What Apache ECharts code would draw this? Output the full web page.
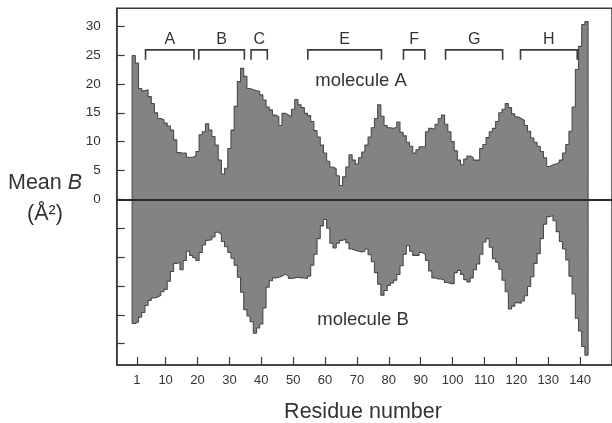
<!DOCTYPE html>
<html>
<head>
<meta charset="utf-8">
<script src="https://cdn.jsdelivr.net/npm/echarts@6/dist/echarts.min.js"></script>
<style>
html,body{margin:0;padding:0;background:#fff;}
#c{width:612px;height:423px;}
</style>
</head>
<body>
<div id="c"></div>
<script>
// Mean B factor per residue (residue numbers start at 0)
const firstResidue = 0;
const moleculeA = [
24.9,23.6,19.2,18.8,19.0,17.8,16.6,15.0,14.0,13.8,
13.2,12.7,12.0,10.3,8.1,8.0,8.0,7.3,7.3,7.5,
8.3,11.2,11.7,13.1,12.0,10.9,9.4,6.8,4.4,5.4,
8.8,12.0,16.1,20.4,22.7,21.3,19.2,19.0,18.8,18.7,
18.1,17.2,16.0,15.5,14.6,14.3,12.8,14.9,14.6,14.3,
15.6,17.3,16.4,15.9,14.9,14.5,13.5,11.9,10.8,9.4,
8.0,6.6,5.6,5.3,4.1,2.4,3.9,5.6,7.7,6.8,
6.1,7.2,8.2,9.4,10.8,12.4,14.0,16.4,14.4,12.8,
12.4,12.3,12.5,13.4,11.6,11.0,9.9,9.2,8.0,8.6,
9.1,9.1,11.7,12.3,12.1,13.0,14.0,14.6,13.0,11.7,
10.0,8.4,6.8,6.0,7.0,7.5,7.2,6.8,6.8,8.8,
9.5,10.7,11.7,12.3,13.5,15.0,15.6,16.6,15.9,14.8,
14.3,14.0,13.7,12.8,11.8,10.6,9.9,9.2,8.3,7.2,
5.7,6.0,6.1,6.4,6.8,8.0,9.5,11.8,16.0,22.5,
26.5,30.3,30.8
];
const moleculeB = [
-21.5,-21.2,-20.4,-19.6,-18.4,-17.5,-17.1,-16.9,-16.6,-16.0,
-15.6,-14.2,-12.5,-11.1,-10.9,-12.2,-10.6,-9.0,-9.7,-10.1,
-10.6,-9.2,-7.9,-7.1,-7.0,-6.5,-5.7,-6.0,-7.3,-8.2,
-9.2,-10.2,-11.4,-13.5,-16.1,-19.1,-20.2,-21.2,-23.2,-22.3,
-21.6,-18.8,-15.2,-14.1,-13.6,-13.5,-13.3,-13.0,-13.3,-13.7,
-13.6,-13.5,-13.6,-13.6,-13.7,-13.3,-11.4,-9.5,-6.8,-4.6,
-3.5,-5.0,-7.6,-8.4,-7.6,-7.1,-6.9,-7.5,-8.6,-8.8,
-9.0,-9.1,-9.0,-8.6,-9.6,-10.8,-12.7,-14.7,-16.6,-15.8,
-14.9,-14.5,-14.0,-13.0,-11.5,-9.5,-8.0,-9.0,-9.7,-9.7,
-9.2,-9.5,-10.6,-12.4,-13.6,-13.8,-13.8,-14.0,-14.4,-14.6,
-14.6,-12.7,-12.3,-13.0,-13.9,-14.3,-13.6,-12.2,-11.2,-9.5,
-7.4,-6.8,-8.3,-10.3,-10.9,-12.1,-14.0,-16.0,-19.0,-18.5,
-17.9,-18.0,-17.6,-16.7,-15.1,-13.4,-11.1,-9.4,-6.8,-4.3,
-3.0,-2.8,-3.7,-5.6,-7.3,-8.6,-10.5,-13.3,-16.4,-20.6,
-22.8,-25.5,-27.0
];
// helix brackets (residue ranges) and labels
const helixNames = ['A','B','C','E','F','G','H'];
const helixStart = [3.7,20.4,36.8,54.6,84.6,97.8,121.3];
const helixEnd   = [18.9,34.7,41.9,77.7,91.3,115.7,139.1];
// axis ticks
const xTickValues = [1,10,20,30,40,50,60,70,80,90,100,110,120,130,140];
const yTickValues = [-25,-20,-15,-10,-5,0,5,10,15,20,25,30];
const yLabelValues = [0,5,10,15,20,25,30];

function stepData(vals){
  const d = [];
  const n = vals.length;
  d.push([firstResidue - 0.5, 0]);
  for (let i = 0; i < n; i++) d.push([firstResidue + i - 0.5, vals[i]]);
  d.push([firstResidue + n - 0.5, vals[n-1]]);
  d.push([firstResidue + n - 0.5, 0]);
  return d;
}

const FONT = 'Liberation Sans, Arial, Helvetica, sans-serif';
const TXT = '#333';
const fill = '#838383';
const edge = '#4a4a4a';

const chart = echarts.init(document.getElementById('c'), null, {renderer:'canvas'});
const option = {
  animation: false,
  backgroundColor: '#fff',
  grid: {left: 116.7, top: 8.3, right: -10.5, bottom: 58, show: true,
         borderColor: '#3a3a3a', borderWidth: 1.5, backgroundColor: 'transparent'},
  xAxis: {
    type: 'value', min: -5.34, max: 150,
    axisLine: {show: true, onZero: false, lineStyle: {color: '#3a3a3a', width: 1.5}},
    axisTick: {show: true, inside: true, length: 8, customValues: xTickValues,
               lineStyle: {color: '#3a3a3a', width: 1.2}},
    axisLabel: {customValues: xTickValues, color: TXT, fontSize: 13, fontFamily: FONT, margin: 9},
    splitLine: {show: false}
  },
  yAxis: {
    type: 'value', min: -28.7, max: 33.1,
    axisLine: {show: true, onZero: false, lineStyle: {color: '#3a3a3a', width: 1.5}},
    axisTick: {show: true, inside: true, length: 8, customValues: yTickValues,
               lineStyle: {color: '#3a3a3a', width: 1.2}},
    axisLabel: {customValues: yLabelValues, color: TXT, fontSize: 13.5, fontFamily: FONT, margin: 16},
    splitLine: {show: false}
  },
  series: [
    {
      type: 'line', name: 'molecule A', step: 'end', symbol: 'none',
      data: stepData(moleculeA),
      lineStyle: {color: edge, width: 1.1},
      areaStyle: {color: fill, opacity: 1, origin: 0},
      z: 2
    },
    {
      type: 'line', name: 'molecule B', step: 'end', symbol: 'none',
      data: stepData(moleculeB),
      lineStyle: {color: edge, width: 1.1},
      areaStyle: {color: fill, opacity: 1, origin: 0},
      z: 2,
      markLine: {
        silent: true, symbol: 'none', label: {show: false},
        lineStyle: {color: '#2a2a2a', width: 2, type: 'solid'},
        data: [{yAxis: 0}]
      }
    },
    {
      type: 'custom', name: 'helices', z: 5,
      data: helixNames.map((n, i) => [helixStart[i], helixEnd[i], i]),
      renderItem: function(params, api){
        const s = api.value(0), e = api.value(1), idx = api.value(2);
        const pTopL = api.coord([s, 25.9]);
        const pTopR = api.coord([e, 25.9]);
        const pBotL = api.coord([s, 24.2]);
        const pBotR = api.coord([e, 24.2]);
        const pLab = api.coord([(s + e) / 2, 27.6]);
        return {
          type: 'group',
          children: [
            {type: 'polyline', shape: {points: [pBotL, pTopL, pTopR, pBotR]},
             style: {stroke: '#3a3a3a', lineWidth: 1.6, fill: null}},
            {type: 'text', x: pLab[0], y: pLab[1],
             style: {text: helixNames[idx], fill: TXT, font: '16px ' + FONT,
                     align: 'center', verticalAlign: 'middle'}}
          ]
        };
      }
    }
  ],
  graphic: [
    {type: 'text', x: 8, y: 183,
     style: {text: '{n|Mean }{i|B}', fill: TXT, verticalAlign: 'middle',
             rich: {n: {fontSize: 21.5, fontFamily: FONT, fill: TXT},
                    i: {fontSize: 21.5, fontFamily: FONT, fontStyle: 'italic', fill: TXT}}}},
    {type: 'text', x: 45, y: 214,
     style: {text: '(Å²)', fill: TXT, font: '21.5px ' + FONT, align: 'center', verticalAlign: 'middle'}},
    {type: 'text', x: 363, y: 412, style: {text: 'Residue number', fill: TXT, font: '21.5px ' + FONT, align: 'center', verticalAlign: 'middle'}},
    {type: 'text', x: 361, y: 81, style: {text: 'molecule A', fill: TXT, font: '18.5px ' + FONT, align: 'center', verticalAlign: 'middle'}},
    {type: 'text', x: 363, y: 320, style: {text: 'molecule B', fill: TXT, font: '18.5px ' + FONT, align: 'center', verticalAlign: 'middle'}}
  ]
};
chart.setOption(option);
</script>
</body>
</html>
